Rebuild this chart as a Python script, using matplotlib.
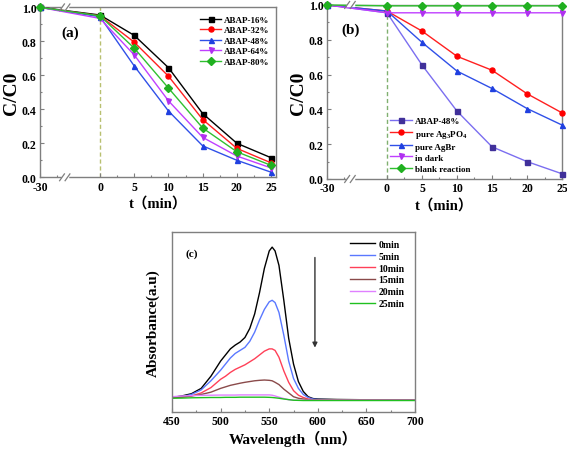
import matplotlib
matplotlib.use("Agg")
import matplotlib.pyplot as plt
import numpy as np
from matplotlib.transforms import blended_transform_factory
from matplotlib.ticker import MultipleLocator, FixedLocator, FormatStrFormatter

plt.rcParams['font.family'] = ['Liberation Serif', 'Noto Sans CJK SC']
plt.rcParams['font.weight'] = 'bold'
plt.rcParams['mathtext.fontset'] = 'custom'
plt.rcParams['mathtext.rm'] = 'Liberation Serif:bold'
plt.rcParams['mathtext.it'] = 'Liberation Serif:bold'
plt.rcParams['mathtext.bf'] = 'Liberation Serif:bold'

# ---------------- data ----------------
t_labels = ['-30', '0', '5', '10', '15', '20', '25']
t_vals = [-30, 0, 5, 10, 15, 20, 25]

a_names = ['ABAP-16%', 'ABAP-32%', 'ABAP-48%', 'ABAP-64%', 'ABAP-80%']
abap16 = [1.0, 0.955, 0.835, 0.645, 0.375, 0.200, 0.115]
abap32 = [1.0, 0.950, 0.795, 0.595, 0.340, 0.170, 0.085]
abap48 = [1.0, 0.945, 0.655, 0.390, 0.185, 0.100, 0.030]
abap64 = [1.0, 0.935, 0.720, 0.450, 0.235, 0.125, 0.055]
abap80 = [1.0, 0.950, 0.760, 0.525, 0.290, 0.150, 0.070]

b_names = ['ABAP-48%', 'pure Ag$_3$PO$_4$', 'pure AgBr', 'in dark', 'blank reaction']
b_abap48 = [1.0, 0.955, 0.655, 0.390, 0.185, 0.100, 0.030]
b_ag3po4 = [1.0, 0.965, 0.850, 0.705, 0.625, 0.490, 0.380]
b_agbr = [1.0, 0.965, 0.785, 0.620, 0.520, 0.405, 0.310]
b_dark = [1.0, 0.955, 0.955, 0.955, 0.955, 0.955, 0.955]
b_blank = [1.0, 0.995, 0.995, 0.995, 0.995, 0.995, 0.995]

c_names = ['0min', '5min', '10min', '15min', '20min', '25min']
wl = [450, 460, 470, 480, 490, 500, 505, 510, 515, 520, 525, 530, 535, 540, 545,
      550, 553, 556, 560, 565, 570, 575, 580, 585, 590, 595, 600, 620, 650, 700]
s0 = [0.010, 0.020, 0.035, 0.070, 0.150, 0.250, 0.290, 0.330, 0.355, 0.375, 0.405, 0.465, 0.560, 0.700, 0.860,
      0.975, 1.000, 0.975, 0.880, 0.650, 0.400, 0.230, 0.115, 0.050, 0.015, 0.003, 0.000, -0.003, -0.005, -0.005]
s5 = [0.010, 0.015, 0.030, 0.060, 0.120, 0.190, 0.230, 0.270, 0.300, 0.320, 0.340, 0.380, 0.440, 0.520, 0.590,
      0.640, 0.650, 0.635, 0.570, 0.420, 0.250, 0.135, 0.070, 0.030, 0.010, 0.000, -0.003, -0.005, -0.005, -0.005]
s10 = [0.010, 0.012, 0.020, 0.040, 0.075, 0.130, 0.150, 0.175, 0.195, 0.210, 0.225, 0.245, 0.265, 0.290, 0.315,
       0.330, 0.330, 0.320, 0.275, 0.185, 0.110, 0.055, 0.025, 0.010, 0.000, -0.005, -0.005, -0.005, -0.005, -0.005]
s15 = [0.010, 0.012, 0.020, 0.030, 0.045, 0.070, 0.080, 0.090, 0.097, 0.104, 0.110, 0.115, 0.120, 0.123, 0.125,
       0.123, 0.120, 0.110, 0.095, 0.065, 0.040, 0.015, 0.005, 0.000, -0.005, -0.005, -0.005, -0.005, -0.005, -0.005]
s20 = [0.015, 0.020, 0.022, 0.024, 0.025, 0.026, 0.026, 0.026, 0.026, 0.027, 0.027, 0.027, 0.027, 0.027, 0.027,
       0.027, 0.025, 0.020, 0.012, 0.003, -0.005, -0.008, -0.008, -0.008, -0.008, -0.008, -0.008, -0.008, -0.008, -0.008]
s25 = [0.005, 0.006, 0.008, 0.009, 0.010, 0.010, 0.011, 0.011, 0.011, 0.012, 0.012, 0.012, 0.012, 0.012, 0.012,
       0.011, 0.010, 0.008, 0.005, 0.000, -0.004, -0.008, -0.009, -0.010, -0.010, -0.010, -0.010, -0.010, -0.010, -0.010]

# --------------- figure ----------------
fig = plt.figure(figsize=(5.67, 4.52), dpi=100)
SP = '#7f7f7f'


def style_axes(ax):
    for s in ax.spines.values():
        s.set_color(SP)
        s.set_linewidth(1.0)
    ax.tick_params(direction='in', which='both', colors=SP, labelcolor='black',
                   labelsize=8.5, width=0.8, pad=2.5)
    ax.tick_params(which='major', length=3)
    ax.tick_params(which='minor', length=1.5)
    for lab in ax.get_xticklabels() + ax.get_yticklabels():
        lab.set_fontweight('bold')


def kinetics(ax, series, names, colors, mcolors, markers, x30, xmax, xbreak, dashcol):
    xpos = [x30] + t_vals[1:]
    ax.axvline(0, color=dashcol, ls=(0, (3, 2)), lw=1.0, zorder=1)
    for y, n, c, mc, m in zip(series, names, colors, mcolors, markers):
        ax.plot(xpos, y, color=c, marker=m, ms=3.6, mfc=mc, mec=mc, lw=1.0,
                label=n, clip_on=False, zorder=3)
    ax.set_xlim(x30, xmax)
    ax.set_ylim(0, 1.0)
    ax.xaxis.set_major_locator(FixedLocator(xpos))
    ax.set_xticklabels(t_labels)
    ax.xaxis.set_minor_locator(FixedLocator([x30 + 2.5, 2.5, 7.5, 12.5, 17.5, 22.5]))
    ax.yaxis.set_major_locator(FixedLocator([0.0, 0.2, 0.4, 0.6, 0.8, 1.0]))
    ax.yaxis.set_major_formatter(FormatStrFormatter('%.1f'))
    ax.yaxis.set_minor_locator(FixedLocator([0.1, 0.3, 0.5, 0.7, 0.9]))
    style_axes(ax)
    ax.set_ylabel('C/C0', fontsize=14, fontweight='bold', labelpad=1)
    ax.set_xlabel('t（min）', fontsize=10.5, fontweight='bold', labelpad=2)
    tr = blended_transform_factory(ax.transData, ax.transAxes)
    for yy in (0.0, 1.0):
        ax.plot([xbreak - 0.35, xbreak + 0.35], [yy, yy], transform=tr, color='white',
                lw=2.5, clip_on=False, zorder=4)
        for dx in (-0.45, 0.35):
            ax.plot([xbreak + dx - 0.35, xbreak + dx + 0.35], [yy - 0.02, yy + 0.02],
                    transform=tr, color=SP, lw=0.9, clip_on=False, zorder=5)


# (a)
axa = fig.add_axes([0.0705, 0.6055, 0.4162, 0.376])
kinetics(axa, [abap16, abap32, abap48, abap64, abap80], a_names,
         ['black', '#ff2020', '#3050e8', '#c040ff', '#30c030'],
         ['black', '#ff0000', '#2040e0', '#b030f0', '#20b020'],
         ['s', 'o', '^', 'v', 'D'], -8.77, 25.7, -5.1, '#b8c070')
axa.text(0.09, 0.83, '(a)', transform=axa.transAxes, fontsize=11, fontweight='bold')
axa.legend(loc='upper right', bbox_to_anchor=(1.0, 0.99), frameon=False,
           handlelength=2.4, handletextpad=0.3, labelspacing=0.25, borderaxespad=0.3,
           prop={'weight': 'bold', 'size': 6.5})

# (b)
axb = fig.add_axes([0.5767, 0.6018, 0.4145, 0.385])
kinetics(axb, [b_abap48, b_ag3po4, b_agbr, b_dark, b_blank], b_names,
         ['#7b6ef0', '#ff2020', '#3050e8', '#c040ff', '#30c030'],
         ['#40309a', '#ff0000', '#2040e0', '#b030f0', '#20b020'],
         ['s', 'o', '^', 'v', 'D'], -8.57, 25.0, -5.24, '#80b070')
axb.text(0.06, 0.84, '(b)', transform=axb.transAxes, fontsize=11, fontweight='bold')
axb.legend(loc='lower left', bbox_to_anchor=(0.24, 0.0), frameon=False,
           handlelength=2.5, handletextpad=0.3, labelspacing=0.3, borderaxespad=0.3,
           prop={'weight': 'bold', 'size': 6.5})

# (c)
axc = fig.add_axes([0.3034, 0.0863, 0.4286, 0.398])
ccols = ['black', '#5a78ff', '#ff4058', '#8a4a4a', '#e080ff', '#20c020']
for y, n, c in zip([s0, s5, s10, s15, s20, s25], c_names, ccols):
    axc.plot(wl, y, color=c, lw=1.0, label=n)
axc.set_xlim(450, 700)
axc.set_ylim(-0.0855, 1.099)
axc.xaxis.set_major_locator(MultipleLocator(50))
axc.xaxis.set_minor_locator(MultipleLocator(25))
axc.set_yticks([])
style_axes(axc)
axc.set_xlabel('Wavelength（nm）', fontsize=11, fontweight='bold', labelpad=2)
axc.set_ylabel('Absorbance(a.u)', fontsize=11, fontweight='bold', labelpad=9)
axc.text(0.055, 0.87, '(c)', transform=axc.transAxes, fontsize=8, fontweight='bold')
axc.annotate('', xy=(597, 0.32), xytext=(597, 0.95),
             arrowprops=dict(arrowstyle='-|>', color='#333333', lw=1.0, mutation_scale=7))
axc.legend(loc='upper right', bbox_to_anchor=(0.98, 0.99), frameon=False,
           handlelength=2.6, handletextpad=0.3, labelspacing=0.3, borderaxespad=0.2,
           prop={'weight': 'bold', 'size': 7})

fig.savefig('out.png', dpi=100)
